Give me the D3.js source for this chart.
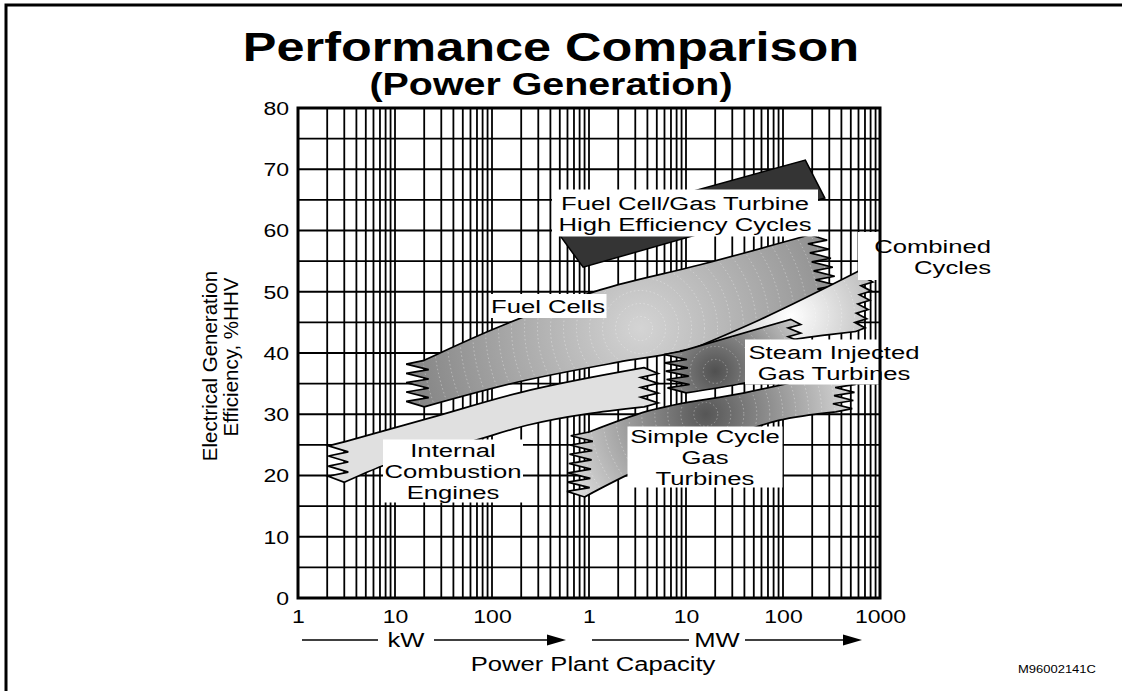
<!DOCTYPE html>
<html>
<head>
<meta charset="utf-8">
<script src="https://cdn.jsdelivr.net/npm/d3@7"></script>
<style>body { margin: 0; background: #fff; }</style>
</head>
<body>
<script>
// capacity in kW, efficiency in % HHV
const xTicks = [1, 10, 100, 1e3, 1e4, 1e5, 1e6];
const xTickLabels = ["1", "10", "100", "1", "10", "100", "1000"];
const yTicks = [0, 10, 20, 30, 40, 50, 60, 70, 80];

// band outlines, [kW, %]
const iceTop = [[3, 25.5], [23, 29.4], [190, 33.5], [3700, 37.6]];
const iceBottom = [[3, 18.9], [7.5, 21.6], [60, 25.5], [230, 28.2], [3700, 31.2]];
const fuelCellTop = [[20, 38.8], [100, 43.8], [1300, 50.3], [14000, 54.4], [190000, 59.3]];
const fuelCellBottom = [[20, 31.2], [190, 35.3], [2000, 38.5], [10700, 40.5], [260000, 49]];
const combinedTop = [[11000, 40.5], [57000, 45.4], [720000, 54]];
const combinedBottom = [[11000, 39.5], [300000, 43], [560000, 43.5]];
const steamTop = [[9000, 40.3], [120000, 45.5]];
const steamBottom = [[10000, 33.5], [40000, 35.1], [120000, 37]];
const simpleTop = [[1000, 27.1], [4000, 30.5], [40000, 33.5], [400000, 37]];
const simpleBottom = [[900, 16.5], [2500, 20.1], [20000, 25.5], [90000, 29], [350000, 30.4]];
const hybrid = [[450, 60.2], [170000, 71.5], [270000, 65.3], [870, 54]];

const W = 1122, H = 691;
const FONT = "'Liberation Sans', Arial, Helvetica, sans-serif";
const SX = 1.28; // the lettering in the original is drawn wide

const svg = d3.select("body").append("svg")
    .attr("width", W).attr("height", H)
    .style("display", "block");

const x = d3.scaleLog().domain([1, 1e6]).range([298, 880]);
const y = d3.scaleLinear().domain([0, 80]).range([598, 108]);

// page frame
svg.append("path").attr("d", `M6,${H}V5H${W}`)
    .attr("fill", "none").attr("stroke", "#000").attr("stroke-width", 3);

function label(g, str, px, py, size, opts = {}) {
    return g.append("text")
        .attr("transform", `translate(${px},${py}) scale(${opts.sx || SX},1)`)
        .attr("text-anchor", opts.anchor || "middle")
        .attr("font-family", FONT)
        .attr("font-size", size)
        .attr("font-weight", opts.weight || "normal")
        .attr("fill", "#000")
        .text(str);
}

// title
label(svg, "Performance Comparison", 551, 61, 41, { weight: "bold", sx: 1.23 });
label(svg, "(Power Generation)", 551, 95, 31, { weight: "bold", sx: 1.27 });

// grid
const grid = svg.append("g").attr("stroke", "#000").attr("stroke-width", 1.8);
grid.selectAll(".v").data(x.ticks()).enter().append("line")
    .attr("x1", d => x(d)).attr("x2", d => x(d))
    .attr("y1", y(80)).attr("y2", y(0));
grid.selectAll(".h").data(d3.range(0, 81, 5)).enter().append("line")
    .attr("x1", x(1)).attr("x2", x(1e6))
    .attr("y1", d => y(d)).attr("y2", d => y(d));

// bands
const defs = svg.append("defs");
const edge = d3.line().curve(d3.curveMonotoneX);

function zigzag(a, b, amp) {
    const len = Math.hypot(b[0] - a[0], b[1] - a[1]);
    const n = Math.max(3, Math.round(len / 9));
    let s = "";
    for (let i = 0; i < n; i++) {
        const tt = (i + 0.6) / n;
        s += `L${a[0] + (b[0] - a[0]) * tt + amp},${a[1] + (b[1] - a[1]) * tt}`;
        if (i < n - 1) {
            const tb = (i + 1) / n;
            s += `L${a[0] + (b[0] - a[0]) * tb - amp * 0.25},${a[1] + (b[1] - a[1]) * tb}`;
        }
    }
    return s + `L${b[0]},${b[1]}`;
}

function bandPath(top, bottom, ampL, ampR) {
    const t = top.map(p => [x(p[0]), y(p[1])]);
    const b = bottom.map(p => [x(p[0]), y(p[1])]);
    let d = edge(t);
    d += zigzag(t[t.length - 1], b[b.length - 1], ampR);
    d += edge(b.slice().reverse()).replace(/^M/, "L");
    d += zigzag(b[0], t[0], -ampL);
    return d + "Z";
}

const bands = [
    { id: "fc", top: fuelCellTop, bottom: fuelCellBottom, ampL: 18, ampR: 16,
      grad: { at: [3400, 44], r: 230, stops: ["#d4d4d4", "#868686"] } },
    { id: "cc", top: combinedTop, bottom: combinedBottom, ampL: 10, ampR: 9,
      grad: { at: [120000, 46], r: 110, stops: ["#ffffff", "#ababab"] } },
    { id: "ice", top: iceTop, bottom: iceBottom, ampL: 16, ampR: 14, fill: "#e0e0e0" },
    { id: "st", top: steamTop, bottom: steamBottom, ampL: 18, ampR: 10,
      grad: { at: [20000, 37], r: 110, stops: ["#505050", "#dcdcdc"] } },
    { id: "sc", top: simpleTop, bottom: simpleBottom, ampL: 18, ampR: 16,
      grad: { at: [16000, 30], r: 170, stops: ["#565656", "#ececec"] } }
];

// hybrid cycles sit behind the other bands
svg.append("path")
    .attr("d", d3.line().x(d => x(d[0])).y(d => y(d[1]))(hybrid) + "Z")
    .attr("fill", "#343434").attr("stroke", "#000").attr("stroke-width", 1.5);

bands.forEach(b => {
    const d = bandPath(b.top, b.bottom, b.ampL, b.ampR);
    let fill = b.fill;
    if (b.grad) {
        const cx = x(b.grad.at[0]), cy = y(b.grad.at[1]);
        const rg = defs.append("radialGradient").attr("id", "g-" + b.id)
            .attr("gradientUnits", "userSpaceOnUse")
            .attr("cx", cx).attr("cy", cy).attr("r", b.grad.r);
        rg.append("stop").attr("offset", 0).attr("stop-color", b.grad.stops[0]);
        rg.append("stop").attr("offset", 1).attr("stop-color", b.grad.stops[1]);
        fill = `url(#g-${b.id})`;
        defs.append("clipPath").attr("id", "c-" + b.id).append("path").attr("d", d);
    }
    svg.append("path").attr("d", d).attr("fill", fill);
    if (b.grad) {
        // faint banding rings of the airbrushed fill
        const cx = x(b.grad.at[0]), cy = y(b.grad.at[1]);
        svg.append("g").attr("clip-path", `url(#c-${b.id})`)
            .selectAll("circle").data(d3.range(12, b.grad.r * 1.3, 13)).enter()
            .append("circle")
            .attr("cx", cx).attr("cy", cy).attr("r", r => r)
            .attr("fill", "none").attr("stroke", "#fff").attr("stroke-opacity", 0.45)
            .attr("stroke-width", 0.8).attr("stroke-dasharray", "1.5,2.5");
    }
    svg.append("path").attr("d", d)
        .attr("fill", "none").attr("stroke", "#000").attr("stroke-width", 1.7)
        .attr("stroke-linejoin", "miter");
});

// band names on white plates
const notes = [
    { lines: ["Fuel Cell/Gas Turbine", "High Efficiency Cycles"], cx: 685, cy: 213, w: 266, h: 47 },
    { lines: ["Combined", "Cycles"], cx: 926, cy: 256, w: 136, h: 48, anchor: "end", tx: 991 },
    { lines: ["Fuel Cells"], cx: 548, cy: 306, w: 117, h: 24 },
    { lines: ["Steam Injected", "Gas Turbines"], cx: 834, cy: 362, w: 178, h: 45 },
    { lines: ["Internal", "Combustion", "Engines"], cx: 453, cy: 471, w: 140, h: 63 },
    { lines: ["Simple Cycle", "Gas", "Turbines"], cx: 705, cy: 457, w: 155, h: 61 }
];
const pitch = 21;
notes.forEach(n => {
    svg.append("rect")
        .attr("x", n.cx - n.w / 2).attr("y", n.cy - n.h / 2)
        .attr("width", n.w).attr("height", n.h).attr("fill", "#fff");
    n.lines.forEach((s, i) => {
        const py = n.cy + (i - (n.lines.length - 1) / 2) * pitch + 7;
        label(svg, s, n.anchor === "end" ? n.tx : n.cx, py, 19, { anchor: n.anchor, sx: 1.35 });
    });
});

// plot frame
svg.append("rect")
    .attr("x", x(1)).attr("y", y(80))
    .attr("width", x(1e6) - x(1)).attr("height", y(0) - y(80))
    .attr("fill", "none").attr("stroke", "#000").attr("stroke-width", 3);

// axes
const yAxis = svg.append("g")
    .attr("transform", "translate(289,0)")
    .call(d3.axisLeft(y).tickValues(yTicks).tickSize(0).tickPadding(0));
yAxis.select(".domain").remove();
yAxis.selectAll("text")
    .attr("x", 0).attr("dy", "0.36em")
    .attr("transform", `scale(${SX},1)`)
    .attr("font-family", FONT).attr("font-size", 18).attr("fill", "#000");

const xAxis = svg.append("g")
    .attr("transform", "translate(0,617)")
    .call(d3.axisBottom(x).tickValues(xTicks).tickFormat((d, i) => xTickLabels[i]).tickSize(0).tickPadding(0));
xAxis.select(".domain").remove();
xAxis.selectAll("text")
    .attr("y", 0).attr("dy", "0.36em")
    .attr("transform", `scale(${SX},1)`)
    .attr("font-family", FONT).attr("font-size", 18).attr("fill", "#000");

// axis titles
[["Electrical Generation", 217, 366], ["Efficiency, %HHV", 238, 357]].forEach(([s, bx, cy]) => {
    svg.append("text")
        .attr("transform", `translate(${bx},${cy}) rotate(-90)`)
        .attr("text-anchor", "middle")
        .attr("font-family", FONT).attr("font-size", 20.5).attr("fill", "#000")
        .text(s);
});

function unitArrow(x0, x1, tx, str) {
    const g = svg.append("g");
    const yy = 640, half = 28;
    g.append("line").attr("x1", x0).attr("x2", tx - half).attr("y1", yy).attr("y2", yy)
        .attr("stroke", "#000").attr("stroke-width", 1.5);
    g.append("line").attr("x1", tx + half).attr("x2", x1 - 17).attr("y1", yy).attr("y2", yy)
        .attr("stroke", "#000").attr("stroke-width", 1.5);
    g.append("path").attr("d", `M${x1 - 19},${yy - 5.5}L${x1},${yy}L${x1 - 19},${yy + 5.5}Z`).attr("fill", "#000");
    label(g, str, tx, yy + 7, 20);
}
unitArrow(302, 566, 406, "kW");
unitArrow(592, 862, 717, "MW");
label(svg, "Power Plant Capacity", 593, 671, 20);

label(svg, "M96002141C", 1018, 673, 10, { anchor: "start", sx: 1.3 });
</script>
</body>
</html>
